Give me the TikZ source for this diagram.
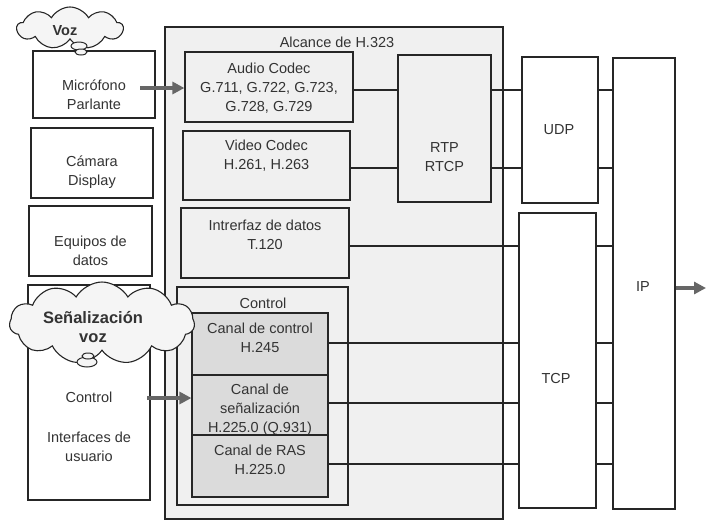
\documentclass[tikz,border=0pt]{standalone}
\usepackage{fontspec}
\setmainfont{Liberation Sans}
\usetikzlibrary{shapes.symbols,arrows.meta}
\begin{document}
\begin{tikzpicture}[x=1pt,y=-1pt,
  font=\fontsize{14.5}{19}\selectfont,
  wh/.style 2 args={minimum width=#1,minimum height=#2},
  box/.style={draw=black!85,line width=1.2pt,fill=white,inner sep=0pt},
  gbox/.style={box,fill=gray!12},
  dbox/.style={box,fill=gray!28},
  txt/.style={align=center,inner sep=0pt,text=black!80},
  conn/.style={draw=black!85,line width=1.1pt},
  garrow/.style={draw=black!60,line width=3.2pt,-{Triangle[length=12pt,width=12pt]}},
  cloudy/.style={cloud,cloud puff arc=120,cloud ignores aspect,draw=black!85,line width=1.1pt,fill=gray!8,inner sep=0pt},
  puff/.style={draw=black!85,line width=1pt,fill=gray!8}]
\useasboundingbox (0,0) rectangle (708,523);

% left column
\node[box,wh={122}{67}] (mic) at (94,84.5) {};
\node[txt] (mict) at (94,95) {Micrófono\\Parlante};
\node[box,wh={122}{70}] (cam) at (92,163) {};
\node[txt] (camt) at (92,172) {Cámara\\Display};
\node[box,wh={123}{70}] (equ) at (90.5,241) {};
\node[txt] (equt) at (90.5,251) {Equipos de\\datos};
\node[box,wh={122}{215}] (ctl) at (89,392.5) {};
\node[txt] (ctlt) at (89,427) {Control\\[21pt]Interfaces de\\usuario};

% H.323 scope
\node[gbox,wh={338}{492}] (big) at (334,273) {};
\node[txt] (bigt) at (337,42) {Alcance de H.323};
\node[gbox,wh={168}{70}] (audio) at (269,87) {};
\node[txt] (audiot) at (269,88) {Audio Codec\\G.711, G.722, G.723,\\G.728, G.729};
\node[gbox,wh={167}{69}] (video) at (266.5,165.5) {};
\node[txt] (videot) at (266.5,156) {Video Codec\\H.261, H.263};
\node[gbox,wh={168}{70}] (intf) at (265,243) {};
\node[txt] (intft) at (265,234.5) {Intrerfaz de datos\\T.120};
\node[gbox,wh={171}{218}] (ctrl) at (262.5,396) {};
\node[txt] (ctrlt) at (263,303) {Control};
\node[dbox,wh={136}{62}] (cc) at (260,344) {};
\node[txt] (cct) at (260,337.5) {Canal de control\\H.245};
\node[dbox,wh={136}{60}] (cs) at (260,405) {};
\node[txt] (cst) at (260,410) {Canal de\\señalización\\H.225.0 (Q.931)};
\node[dbox,wh={136}{62}] (cr) at (260,466) {};
\node[txt] (crt) at (260,460) {Canal de RAS\\H.225.0};
\node[gbox,wh={93}{147}] (rtp) at (444.5,128.5) {};
\node[txt] (rtpt) at (444.5,157) {RTP\\RTCP};

% transport / network
\node[box,wh={76}{146}] (udp) at (560,130) {};
\node[txt] (udpt) at (559,130) {UDP};
\node[box,wh={77}{295}] (tcp) at (557.5,360.5) {};
\node[txt] (tcpt) at (556,378) {TCP};
\node[box,wh={62}{451}] (ip) at (644,283.5) {};
\node[txt] (ipt) at (643,287) {IP};

% connectors
\coordinate (r1) at (0,90);
\coordinate (r2) at (0,168);
\coordinate (r3) at (0,246);
\coordinate (r4) at (0,343);
\coordinate (r5) at (0,403);
\coordinate (r6) at (0,464);
\draw[conn] (r1 -| audio.east) -- (r1 -| rtp.west);
\draw[conn] (r1 -| rtp.east) -- (r1 -| udp.west);
\draw[conn] (r1 -| udp.east) -- (r1 -| ip.west);
\draw[conn] (r2 -| video.east) -- (r2 -| rtp.west);
\draw[conn] (r2 -| rtp.east) -- (r2 -| udp.west);
\draw[conn] (r2 -| udp.east) -- (r2 -| ip.west);
\draw[conn] (r3 -| intf.east) -- (r3 -| tcp.west);
\draw[conn] (r3 -| tcp.east) -- (r3 -| ip.west);
\draw[conn] (r4 -| cc.east) -- (r4 -| tcp.west);
\draw[conn] (r4 -| tcp.east) -- (r4 -| ip.west);
\draw[conn] (r5 -| cs.east) -- (r5 -| tcp.west);
\draw[conn] (r5 -| tcp.east) -- (r5 -| ip.west);
\draw[conn] (r6 -| cr.east) -- (r6 -| tcp.west);
\draw[conn] (r6 -| tcp.east) -- (r6 -| ip.west);

% clouds
\node[cloudy,cloud puffs=9,wh={106}{42}] (vozc) at (70,28) {};
\draw[puff] (79,46) ellipse [x radius=8, y radius=4];
\draw[puff] (81,52) ellipse [x radius=6, y radius=3];
\node[txt,font=\bfseries\fontsize{14.5}{17}\selectfont] (voz) at (65,31) {Voz};
\node[cloudy,cloud puffs=11,wh={185}{82}] (sc) at (102,323) {};
\draw[puff] (87,362) ellipse [x radius=10, y radius=5];
\draw[puff] (88,356) ellipse [x radius=6, y radius=3];
\node[txt,font=\bfseries\fontsize{16.5}{19.5}\selectfont] (sct) at (93,327) {Señalización\\voz};

% arrows
\coordinate (ra) at (140,88);
\coordinate (rb) at (147,398);
\coordinate (rc) at (706,288);
\draw[garrow] (ra) -- (ra -| audio.west);
\draw[garrow] (rb) -- (rb -| cs.west);
\draw[garrow] (rc -| ip.east) -- (rc);
\end{tikzpicture}
\end{document}
